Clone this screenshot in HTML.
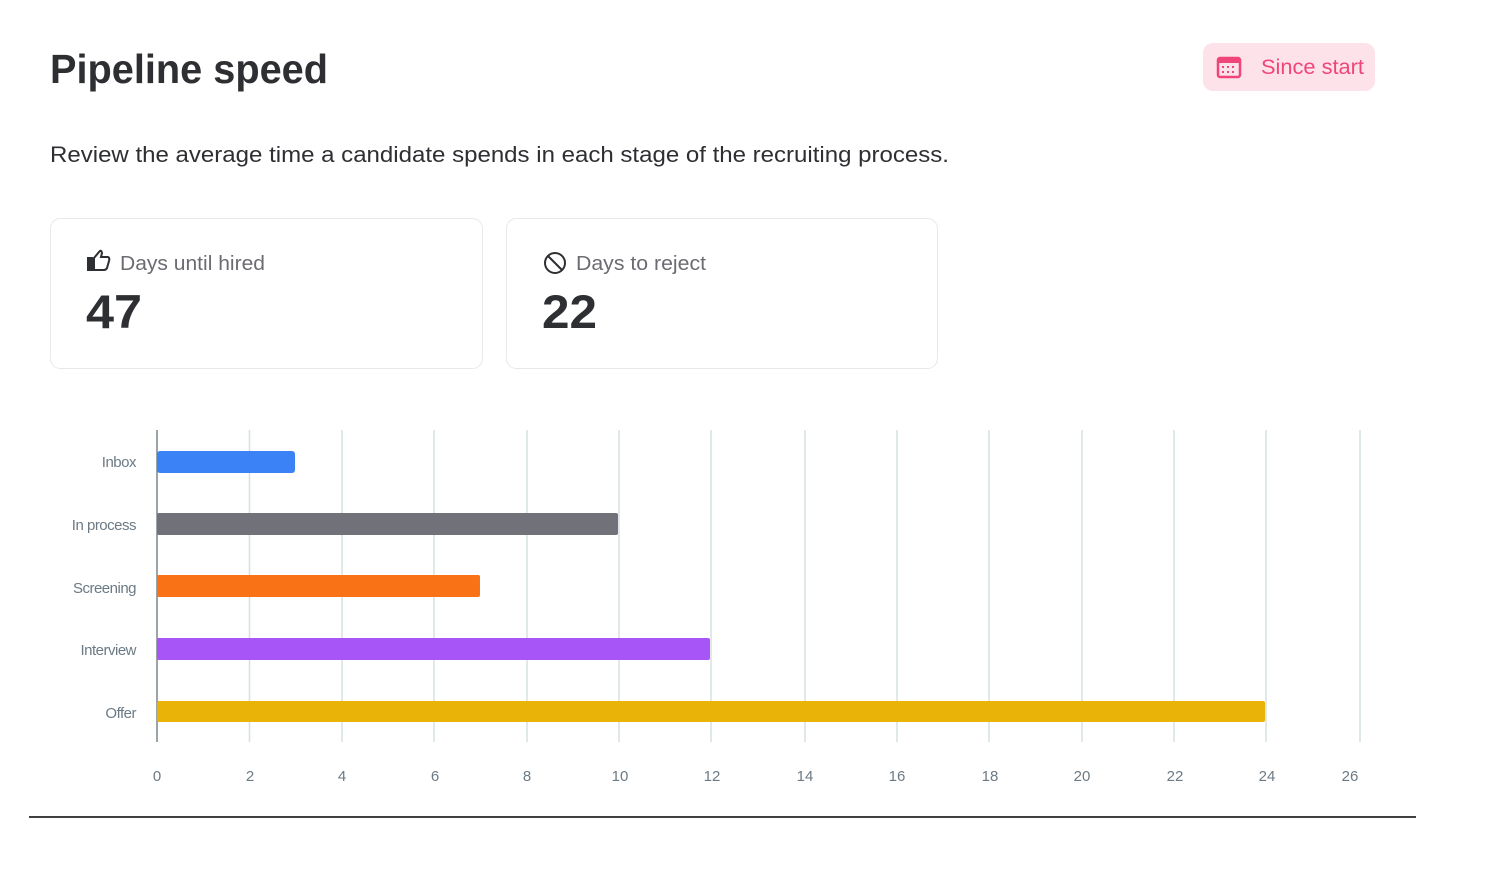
<!DOCTYPE html>
<html><head><style>
html,body{margin:0;padding:0;background:#fff;width:1500px;height:895px;overflow:hidden}
svg{display:block;font-family:"Liberation Sans",sans-serif}
</style></head><body>
<svg width="1500" height="895" viewBox="0 0 1500 895">
<text x="50" y="83" font-size="41" font-weight="bold" fill="#2e2f33" textLength="278" lengthAdjust="spacingAndGlyphs">Pipeline speed</text>
<rect x="1203" y="43" width="172" height="48" rx="10" fill="#fde2ea"/>
<rect x="1218" y="58" width="22" height="19" rx="2" fill="none" stroke="#f0457a" stroke-width="2.5"/>
<rect x="1218" y="58" width="22" height="5" fill="#f0457a"/>
<g fill="#f0457a"><rect x="1222" y="66" width="2" height="2"/><rect x="1227" y="66" width="2" height="2"/><rect x="1232" y="66" width="2" height="2"/><rect x="1222" y="71" width="2" height="2"/><rect x="1227" y="71" width="2" height="2"/><rect x="1232" y="71" width="2" height="2"/></g>
<text x="1261" y="74" font-size="21" fill="#f0457a" textLength="103" lengthAdjust="spacingAndGlyphs">Since start</text>
<text x="50" y="162" font-size="22" fill="#2e2f33" textLength="899" lengthAdjust="spacingAndGlyphs">Review the average time a candidate spends in each stage of the recruiting process.</text>
<rect x="50.5" y="218.5" width="432" height="150" rx="10" fill="#fff" stroke="#e8e8ea"/>
<rect x="506.5" y="218.5" width="431" height="150" rx="10" fill="#fff" stroke="#e8e8ea"/>
<g fill="none" stroke="#2e2f33" stroke-width="2">
<rect x="88" y="258" width="4" height="12" fill="#2e2f33"/>
<path d="M94 258 L99 252 Q101 249 102 253 L101 257 L108 257 Q110 258 109 261 L107 268 Q106 270 104 270 L94 270 Z"/>
<circle cx="555" cy="263" r="10"/><path d="M548 256 L562 270"/>
</g>
<text x="120" y="270" font-size="20" fill="#6b6c72" textLength="145" lengthAdjust="spacingAndGlyphs">Days until hired</text>
<text x="576" y="270" font-size="20" fill="#6b6c72" textLength="130" lengthAdjust="spacingAndGlyphs">Days to reject</text>
<text x="86" y="328" font-size="47" font-weight="bold" fill="#2e2f33" textLength="56" lengthAdjust="spacingAndGlyphs">47</text>
<text x="542" y="328" font-size="47" font-weight="bold" fill="#2e2f33" textLength="55" lengthAdjust="spacingAndGlyphs">22</text>
<g stroke="#d5e0e3" stroke-width="1.5">
<line x1="249.5" y1="430" x2="249.5" y2="742"/><line x1="342" y1="430" x2="342" y2="742"/><line x1="434" y1="430" x2="434" y2="742"/><line x1="527" y1="430" x2="527" y2="742"/><line x1="619" y1="430" x2="619" y2="742"/><line x1="711" y1="430" x2="711" y2="742"/><line x1="805" y1="430" x2="805" y2="742"/><line x1="897" y1="430" x2="897" y2="742"/><line x1="989" y1="430" x2="989" y2="742"/><line x1="1082" y1="430" x2="1082" y2="742"/><line x1="1174" y1="430" x2="1174" y2="742"/><line x1="1266" y1="430" x2="1266" y2="742"/><line x1="1360" y1="430" x2="1360" y2="742"/>
</g>
<line x1="157" y1="430" x2="157" y2="742" stroke="#7d868c" stroke-width="1.5"/>
<rect x="157" y="451" width="138" height="22" rx="3" fill="#3b82f6"/>
<rect x="157" y="513" width="461" height="22" rx="2" fill="#71717a"/>
<rect x="157" y="575" width="323" height="22" rx="2" fill="#f97316"/>
<rect x="157" y="638" width="553" height="22" rx="2" fill="#a855f7"/>
<rect x="157" y="701" width="1108" height="21" rx="2" fill="#eab308"/>
<g font-size="15" fill="#6b7a85" text-anchor="end" letter-spacing="-0.5">
<text x="136" y="467">Inbox</text><text x="136" y="530">In process</text><text x="136" y="593">Screening</text><text x="136" y="655">Interview</text><text x="136" y="718">Offer</text>
</g>
<g font-size="15" fill="#6b7a85" text-anchor="middle">
<text x="157" y="781">0</text><text x="250" y="781">2</text><text x="342" y="781">4</text><text x="435" y="781">6</text><text x="527" y="781">8</text><text x="620" y="781">10</text><text x="712" y="781">12</text><text x="805" y="781">14</text><text x="897" y="781">16</text><text x="990" y="781">18</text><text x="1082" y="781">20</text><text x="1175" y="781">22</text><text x="1267" y="781">24</text><text x="1350" y="781">26</text>
</g>
<line x1="29" y1="817" x2="1416" y2="817" stroke="#000" stroke-width="1.5"/>
</svg>
</body></html>
